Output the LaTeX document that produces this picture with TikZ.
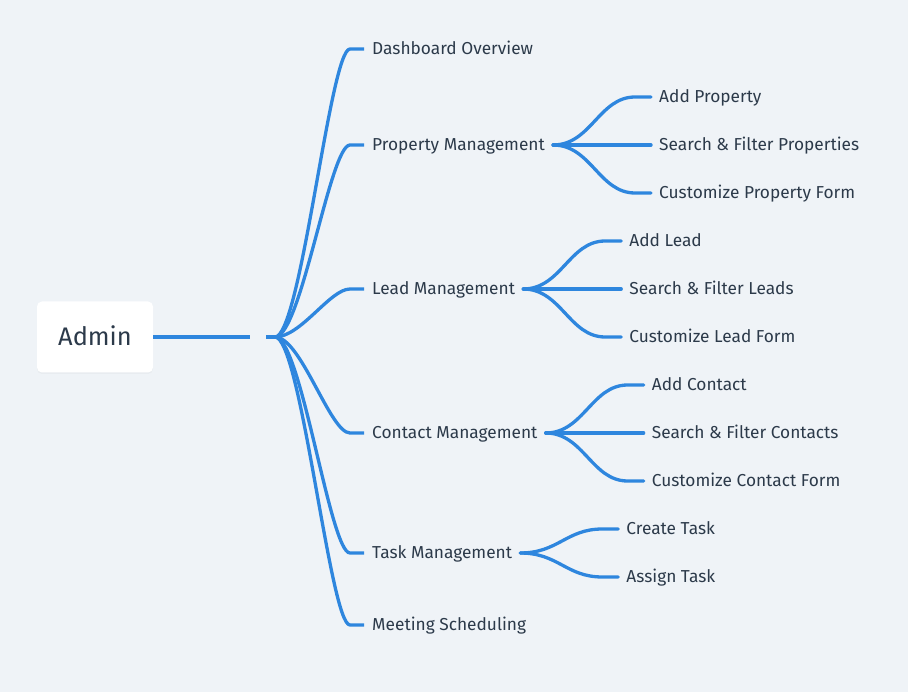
\documentclass[tikz,border=0pt]{standalone}
\usepackage{fontspec}
\setmainfont{Fira Sans}
\usetikzlibrary{shadows}
\definecolor{bg}{RGB}{239,243,247}
\definecolor{ln}{RGB}{46,134,222}
\definecolor{tx}{RGB}{44,58,74}
\tikzset{
  x=1pt,y=-1pt,
  conn/.style={draw=ln,line width=3.3pt,line cap=round},
  topic/.style={anchor=west,inner xsep=8pt,inner ysep=2pt,text height=11.9pt,text depth=0pt,text=tx,font=\fontsize{17.3}{20}\selectfont},
  rootbox/.style={fill=white,rounded corners=5pt,minimum width=116pt,minimum height=71pt,text height=17.5pt,text depth=0pt,text=tx,font=\fontsize{25.4}{30}\selectfont,drop shadow={opacity=0.06,shadow xshift=0pt,shadow yshift=-1.5pt}},
}
\begin{document}
\begin{tikzpicture}
\fill[bg] (0,0) rectangle (908,692);
\useasboundingbox (0,0) rectangle (908,692);
\node[rootbox] (root) at (95,337) {Admin};
\coordinate (r1) at (250,337);
\coordinate (j) at (266,337);
\draw[conn,line cap=butt] (root.east) -- (r1);
% main topics
\node[topic] (dash) at (364,49) {Dashboard Overview};
\node[topic] (prop) at (364,145) {Property Management};
\node[topic] (lead) at (364,289) {Lead Management};
\node[topic] (cont) at (364,433) {Contact Management};
\node[topic] (task) at (364,553) {Task Management};
\node[topic] (meet) at (364,625) {Meeting Scheduling};
\foreach \n in {dash,prop,lead,cont,task,meet}{
  \draw[conn,line cap=butt] (j) -- ++(9,0) .. controls +(26,0) and +(-20,0) .. ([xshift=-14pt]\n.west) -- (\n.west);
}
% property
\node[topic] (p1) at ([xshift=98pt,yshift=48pt]prop.east) {Add Property};
\node[topic] (p2) at ([xshift=98pt]prop.east) {Search \& Filter Properties};
\node[topic] (p3) at ([xshift=98pt,yshift=-48pt]prop.east) {Customize Property Form};
% lead
\node[topic] (l1) at ([xshift=98pt,yshift=48pt]lead.east) {Add Lead};
\node[topic] (l2) at ([xshift=98pt]lead.east) {Search \& Filter Leads};
\node[topic] (l3) at ([xshift=98pt,yshift=-48pt]lead.east) {Customize Lead Form};
% contact
\node[topic] (c1) at ([xshift=98pt,yshift=48pt]cont.east) {Add Contact};
\node[topic] (c2) at ([xshift=98pt]cont.east) {Search \& Filter Contacts};
\node[topic] (c3) at ([xshift=98pt,yshift=-48pt]cont.east) {Customize Contact Form};
% task
\node[topic] (t1) at ([xshift=98pt,yshift=24pt]task.east) {Create Task};
\node[topic] (t2) at ([xshift=98pt,yshift=-24pt]task.east) {Assign Task};
\foreach \a/\b in {prop/p1,prop/p2,prop/p3,lead/l1,lead/l2,lead/l3,cont/c1,cont/c2,cont/c3,task/t1,task/t2}{
  \draw[conn] (\a.east) .. controls +(38,0) and +(-36,0) .. ([xshift=-16pt]\b.west) -- (\b.west);
}
\end{tikzpicture}
\end{document}
